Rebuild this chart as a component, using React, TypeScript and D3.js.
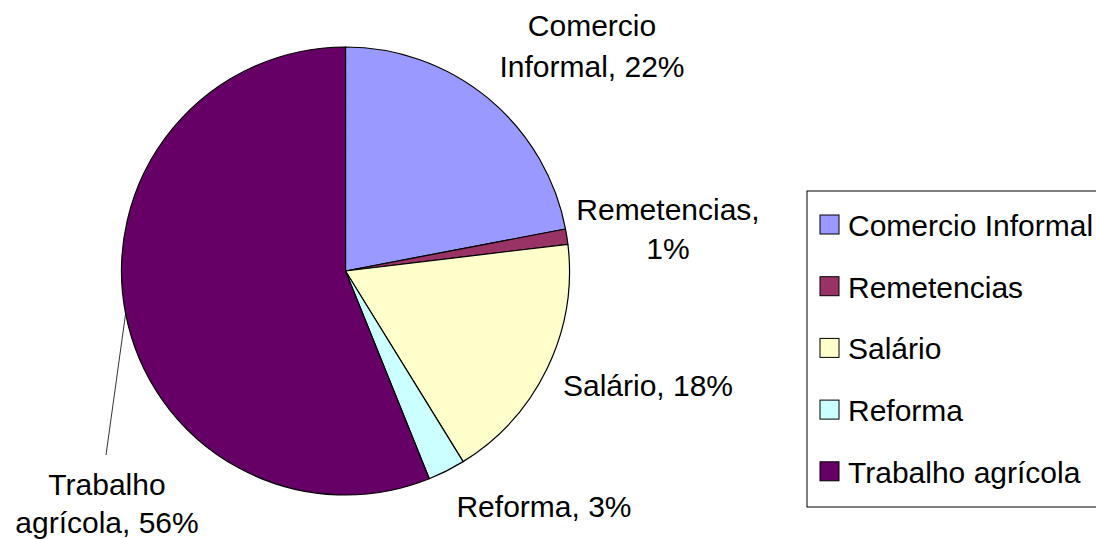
import React from "react";
import * as d3 from "d3";

const categories = ["Comercio Informal", "Remetencias", "Salário", "Reforma", "Trabalho agrícola"];
const values = [22.0, 1.1, 18.1, 2.7, 56.1];
const colors = ["#9999FF", "#993366", "#FFFFCC", "#CCFFFF", "#660066"];
// label text lines (first line(s) of category, percent appended to last line)
const labelLines = [["Comercio", "Informal"], ["Remetencias,", ""], ["Salário"], ["Reforma"], ["Trabalho", "agrícola"]];

// layout: label anchor offsets relative to pie centre (x centre, first baseline)
const labelLayout = [
  { dx: 246.5, dy: -235, lh: 41 },
  { dx: 322.5, dy: -51, lh: 39 },
  { dx: 302.5, dy: 125, lh: 40 },
  { dx: 198.5, dy: 246, lh: 40 },
  { dx: -238.5, dy: 224, lh: 38 },
];

const W = 1096;
const H = 539;
const cx = 345.5;
const cy = 271;
const R = 224;
const FONT = "'Liberation Sans', Arial, sans-serif";

export default function App() {
  const total = d3.sum(values);
  const pie = d3.pie<number>().sort(null).value((d) => d)(values);
  const arc = d3.arc<d3.PieArcDatum<number>>().innerRadius(0).outerRadius(R);

  const leader = (() => {
    const a = pie[4];
    const mid = (a.startAngle + a.endAngle) / 2;
    return {
      x1: cx + Math.sin(mid) * R,
      y1: cy - Math.cos(mid) * R,
      x2: cx + labelLayout[4].dx - 1,
      y2: cy + labelLayout[4].dy - 40,
    };
  })();

  const legendX = 807;
  const legendY = 191;
  const rowH = 61.7;

  return (
    <svg width={W} height={H} style={{ position: "absolute", left: 0, top: 0, background: "#fff" }} fontFamily={FONT}>
      <g transform={`translate(${cx},${cy})`}>
        {pie.map((p, i) => (
          <path key={i} d={arc(p) || ""} fill={colors[i]} stroke="#000" strokeWidth={1.2} strokeLinejoin="round" />
        ))}
      </g>
      <line x1={leader.x1} y1={leader.y1} x2={leader.x2} y2={leader.y2} stroke="#000" strokeWidth={0.8} />
      {labelLines.map((lines, i) => {
        const pct = Math.round((values[i] / total) * 100) + "%";
        const L = labelLayout[i];
        let out: string[];
        if (i === 1) out = [lines[0], pct];
        else if (lines.length === 1) out = [lines[0] + ", " + pct];
        else out = [lines[0], lines[1] + ", " + pct];
        return (
          <text key={i} x={cx + L.dx} y={cy + L.dy} fontSize={30} textAnchor="middle" fill="#000">
            {out.map((t, j) => (
              <tspan key={j} x={cx + L.dx} y={cy + L.dy + j * L.lh}>
                {t}
              </tspan>
            ))}
          </text>
        );
      })}
      <rect x={legendX} y={legendY} width={320} height={316} fill="#fff" stroke="#000" strokeWidth={1} />
      {categories.map((c, i) => (
        <g key={c}>
          <rect x={820} y={legendY + 24 + i * rowH} width={19} height={19} fill={colors[i]} stroke="#000" strokeWidth={1} />
          <text x={848} y={legendY + 45 + i * rowH} fontSize={30} fill="#000">
            {c}
          </text>
        </g>
      ))}
    </svg>
  );
}
